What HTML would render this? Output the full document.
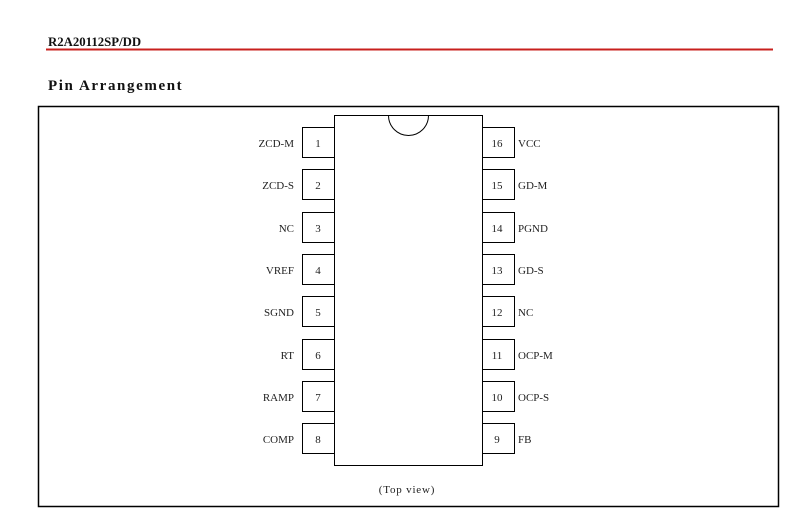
<!DOCTYPE html>
<html><head><style>
body{margin:0;background:#fff;width:804px;height:532px;overflow:hidden}
</style></head><body>
<svg width="804" height="532" xmlns="http://www.w3.org/2000/svg" style="display:block;font-family:'Liberation Serif',serif">
<text x="48" y="46" font-size="12.8" font-weight="bold" fill="#111">R2A20112SP/DD</text>
<line x1="46" y1="49.5" x2="773" y2="49.5" stroke="#c8201e" stroke-width="2"/>
<text x="48" y="90" font-size="15" font-weight="bold" letter-spacing="1.6" fill="#111">Pin Arrangement</text>
<rect x="38.5" y="106.5" width="740" height="400" fill="none" stroke="#000" stroke-width="1.5"/>
<rect x="334.5" y="115.5" width="148" height="350" fill="none" stroke="#000"/>
<path d="M388.5 115.5 A20 20 0 0 0 428.5 115.5" fill="none" stroke="#000"/>
<g fill="none" stroke="#000">
<rect x="302.5" y="127.5" width="32" height="30"/><rect x="482.5" y="127.5" width="32" height="30"/>
<rect x="302.5" y="169.5" width="32" height="30"/><rect x="482.5" y="169.5" width="32" height="30"/>
<rect x="302.5" y="212.5" width="32" height="30"/><rect x="482.5" y="212.5" width="32" height="30"/>
<rect x="302.5" y="254.5" width="32" height="30"/><rect x="482.5" y="254.5" width="32" height="30"/>
<rect x="302.5" y="296.5" width="32" height="30"/><rect x="482.5" y="296.5" width="32" height="30"/>
<rect x="302.5" y="339.5" width="32" height="30"/><rect x="482.5" y="339.5" width="32" height="30"/>
<rect x="302.5" y="381.5" width="32" height="30"/><rect x="482.5" y="381.5" width="32" height="30"/>
<rect x="302.5" y="423.5" width="32" height="30"/><rect x="482.5" y="423.5" width="32" height="30"/>
</g>
<g font-size="11" fill="#222">
<g text-anchor="end">
<text x="294" y="147">ZCD-M</text><text x="294" y="189">ZCD-S</text><text x="294" y="232">NC</text><text x="294" y="274">VREF</text>
<text x="294" y="316">SGND</text><text x="294" y="359">RT</text><text x="294" y="401">RAMP</text><text x="294" y="443">COMP</text>
</g>
<g text-anchor="middle">
<text x="318" y="147">1</text><text x="318" y="189">2</text><text x="318" y="232">3</text><text x="318" y="274">4</text>
<text x="318" y="316">5</text><text x="318" y="359">6</text><text x="318" y="401">7</text><text x="318" y="443">8</text>
<text x="497" y="147">16</text><text x="497" y="189">15</text><text x="497" y="232">14</text><text x="497" y="274">13</text>
<text x="497" y="316">12</text><text x="497" y="359">11</text><text x="497" y="401">10</text><text x="497" y="443">9</text>
</g>
<text x="518" y="147">VCC</text><text x="518" y="189">GD-M</text><text x="518" y="232">PGND</text><text x="518" y="274">GD-S</text>
<text x="518" y="316">NC</text><text x="518" y="359">OCP-M</text><text x="518" y="401">OCP-S</text><text x="518" y="443">FB</text>
</g>
<text x="407" y="493" font-size="11" text-anchor="middle" letter-spacing="0.8" fill="#222">(Top view)</text>
</svg>
</body></html>
